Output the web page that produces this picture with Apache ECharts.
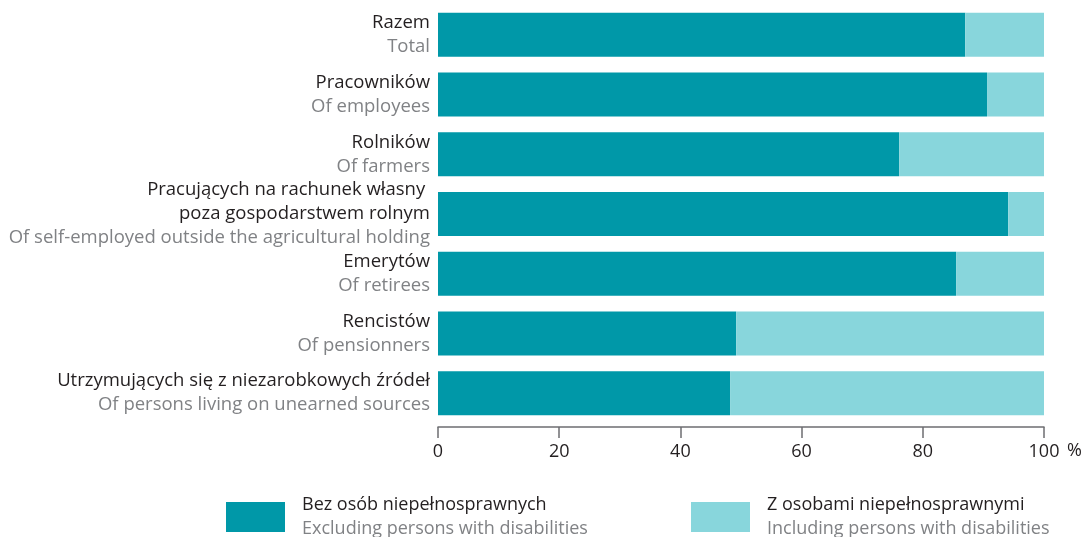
<!DOCTYPE html>
<html>
<head>
<meta charset="UTF-8">
<title>Gospodarstwa domowe</title>
<script src="https://cdn.jsdelivr.net/npm/echarts@6/dist/echarts.min.js"></script>
<style>
  html, body { margin: 0; padding: 0; background: #fff; }
</style>
</head>
<body>
<div id="container" style="width: 1085px; height: 537px;"></div>
<script>
// kategorie (PL / EN)
var categoriesPl = [
    'Razem',
    'Pracowników',
    'Rolników',
    'Pracujących na rachunek własny \npoza gospodarstwem rolnym',
    'Emerytów',
    'Rencistów',
    'Utrzymujących się z niezarobkowych źródeł'
];
var categoriesEn = [
    'Total',
    'Of employees',
    'Of farmers',
    'Of self-employed outside the agricultural holding',
    'Of retirees',
    'Of pensionners',
    'Of persons living on unearned sources'
];
// wartości w %
var withoutDisabled = [87.0, 90.6, 76.1, 94.1, 85.5, 49.2, 48.2];
var withDisabled = [13.0, 9.4, 23.9, 5.9, 14.5, 50.8, 51.8];
var xTicks = [0, 20, 40, 60, 80, 100];

var seriesNames = ['Bez osób niepełnosprawnych', 'Z osobami niepełnosprawnymi'];
var seriesNamesEn = ['Excluding persons with disabilities', 'Including persons with disabilities'];

var dark = '#0098a8', light = '#88d6dc';
var black = '#231f20', grey = '#808285';
var font = 'Open Sans';

var chart = echarts.init(document.getElementById('container'));

function catLabel(value, idx) {
    var lines = categoriesPl[idx].split('\n').map(function (s) { return '{a|' + s + '}'; });
    lines.push('{b|' + categoriesEn[idx] + '}');
    return lines.join('\n');
}

function legendFmt(name) {
    var i = seriesNames.indexOf(name);
    return '{a|' + name + '}\n{b|' + seriesNamesEn[i] + '}';
}

var legendRich = {
    a: { color: black, fontSize: 18, fontFamily: font, lineHeight: 24, padding: [0, 0, 0, 12] },
    b: { color: grey, fontSize: 18, fontFamily: font, lineHeight: 24, padding: [0, 0, 0, 12] }
};

var option = {
    animation: false,
    textStyle: { fontFamily: font },
    grid: { left: 438, right: 41, top: 5, height: 418 },
    xAxis: {
        type: 'value',
        min: 0,
        max: 100,
        interval: 20,
        offset: 4,
        axisLine: { show: true, lineStyle: { color: '#6d6e71', width: 1.5 } },
        axisTick: { show: true, length: 11, lineStyle: { color: '#6d6e71', width: 1.5 } },
        splitLine: { show: false },
        axisLabel: {
            color: black, fontSize: 18, fontFamily: font, margin: 16,
            formatter: function (v) { return xTicks.indexOf(v) >= 0 ? String(v) : ''; }
        },
        name: '%',
        nameLocation: 'end',
        nameGap: 23,
        nameTextStyle: { color: black, fontSize: 18, fontFamily: font, verticalAlign: 'top', padding: [15, 0, 0, 0] }
    },
    yAxis: {
        type: 'category',
        inverse: true,
        data: categoriesPl,
        axisLine: { show: false },
        axisTick: { show: false },
        axisLabel: {
            margin: 8,
            align: 'right',
            formatter: catLabel,
            rich: {
                a: { color: black, fontSize: 18.5, fontFamily: font, lineHeight: 24, align: 'right' },
                b: { color: grey, fontSize: 18.5, fontFamily: font, lineHeight: 24, align: 'right' }
            }
        }
    },
    legend: [{
        left: 226, top: 496, padding: 0,
        itemWidth: 59, itemHeight: 30,
        icon: 'rect',
        data: [seriesNames[0]],
        formatter: legendFmt,
        textStyle: { rich: legendRich },
        selectedMode: false
    }, {
        left: 691, top: 496, padding: 0,
        itemWidth: 59, itemHeight: 30,
        icon: 'rect',
        data: [seriesNames[1]],
        formatter: legendFmt,
        textStyle: { rich: legendRich },
        selectedMode: false
    }],
    series: [{
        name: seriesNames[0],
        type: 'bar',
        stack: 'total',
        barWidth: 44,
        itemStyle: { color: dark },
        data: withoutDisabled
    }, {
        name: seriesNames[1],
        type: 'bar',
        stack: 'total',
        barWidth: 44,
        itemStyle: { color: light },
        data: withDisabled
    }]
};

chart.setOption(option);
</script>
</body>
</html>
